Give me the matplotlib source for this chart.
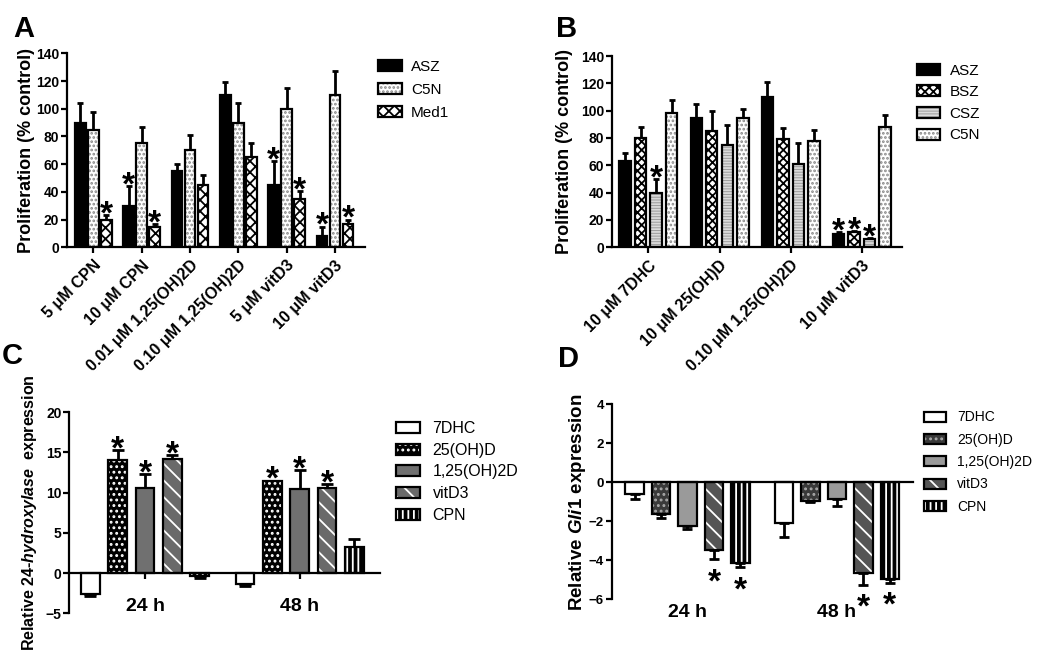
import numpy as np
import matplotlib
matplotlib.use("Agg")
import matplotlib.pyplot as plt
from matplotlib.patches import Patch

plt.rcParams["font.family"] = ["Liberation Sans", "DejaVu Sans"]
plt.rcParams["mathtext.fontset"] = "custom"
plt.rcParams["mathtext.it"] = "Liberation Sans:italic:bold"
plt.rcParams["mathtext.rm"] = "Liberation Sans:bold"
plt.rcParams["hatch.linewidth"] = 1.3

# ---------- data ----------
a_cats = ["5 μM CPN", "10 μM CPN", "0.01 μM 1,25(OH)2D", "0.10 μM 1,25(OH)2D",
          "5 μM vitD3", "10 μM vitD3"]
a_asz = [90, 30, 55, 110, 45, 8]
a_asz_err = [14, 14, 5, 9, 17, 7]
a_c5n = [85, 75, 70, 90, 100, 110]
a_c5n_err = [13, 12, 11, 14, 15, 17]
a_med1 = [20, 15, 45, 65, 35, 17]
a_med1_err = [3.5, 2, 7, 10, 5.5, 3]
a_star = {"ASZ": [1, 4, 5], "C5N": [], "Med1": [0, 1, 4, 5]}

b_cats = ["10 μM 7DHC", "10 μM 25(OH)D", "0.10 μM 1,25(OH)2D", "10 μM vitD3"]
b_asz = [63, 95, 110, 10]
b_asz_err = [6, 10, 11, 1]
b_bsz = [80, 85, 79, 11]
b_bsz_err = [8, 15, 8, 1]
b_csz = [40, 75, 61, 6]
b_csz_err = [10, 14.5, 15, 0.5]
b_c5n = [98, 95, 78, 88]
b_c5n_err = [10, 6, 8, 9]
b_star = {"ASZ": [3], "BSZ": [3], "CSZ": [0, 3], "C5N": []}

times = ["24 h", "48 h"]
c_7dhc = [-2.6, -1.3]
c_7dhc_err = [0.25, 0.3]
c_25 = [14.1, 11.4]
c_25_err = [1.2, 0.1]
c_125 = [10.55, 10.45]
c_125_err = [1.8, 2.4]
c_vit = [14.15, 10.55]
c_vit_err = [0.55, 0.55]
c_cpn = [-0.4, 3.3]
c_cpn_err = [0.2, 0.95]
c_star = {"25(OH)D": [0, 1], "1,25(OH)2D": [0, 1], "vitD3": [0, 1]}

d_7dhc = [-0.6, -2.07]
d_7dhc_err = [0.25, 0.75]
d_25 = [-1.65, -0.97]
d_25_err = [0.2, 0.03]
d_125 = [-2.25, -0.85]
d_125_err = [0.15, 0.35]
d_vit = [-3.45, -4.65]
d_vit_err = [0.5, 0.6]
d_cpn = [-4.15, -4.95]
d_cpn_err = [0.2, 0.2]
d_star = {"vitD3": [0, 1], "CPN": [0, 1]}

BOLD = dict(fontweight="bold")
STAR_UP, STAR_DOWN = -6, -23      # baseline offsets (points) from the error-bar tip


def style_axis(ax, ylim, yticks, tick_fs):
    for s in ["top", "right"]:
        ax.spines[s].set_visible(False)
    for s in ["left", "bottom"]:
        ax.spines[s].set_linewidth(1.6)
    ax.spines["bottom"].set_position(("data", 0))
    ax.set_ylim(*ylim)
    ax.set_yticks(yticks)
    ax.tick_params(axis="both", direction="out", width=1.6, length=4, labelsize=tick_fs)
    ax.tick_params(axis="y", pad=1.5)
    for lab in ax.get_yticklabels():
        lab.set_fontweight("bold")


def draw_series(ax, x, vals, errs, face, hatch, hcol, width, capsize, stars):
    x = np.asarray(x, float)
    vals = np.asarray(vals, float)
    errs = np.asarray(errs, float)
    ax.bar(x, vals, width, color=face, hatch=hatch, edgecolor=hcol, linewidth=0, zorder=2)
    ax.bar(x, vals, width, fill=False, edgecolor="black", linewidth=1.6, zorder=3)
    lo = np.where(vals < 0, errs, 0)
    hi = np.where(vals >= 0, errs, 0)
    ax.errorbar(x, vals, yerr=[lo, hi], fmt="none", ecolor="black", elinewidth=2,
                capsize=capsize, capthick=2, zorder=1)
    for i in stars:
        up = vals[i] >= 0
        tip = vals[i] + errs[i] if up else vals[i] - errs[i]
        ax.annotate("*", (x[i], tip), xytext=(0, STAR_UP if up else STAR_DOWN),
                    textcoords="offset points", ha="center", va="baseline",
                    fontsize=24, fontweight="bold")


def legend_handle(face, hatch, hcol):
    return (Patch(facecolor=face, hatch=hatch, edgecolor=hcol, linewidth=0),
            Patch(fill=False, edgecolor="black", linewidth=1.6))


fig = plt.figure(figsize=(10.5, 6.62), dpi=100)

# ---------- A ----------
axA = fig.add_axes([0.0635, 0.6264, 0.2841, 0.2931])
styleA = [("ASZ", a_asz, a_asz_err, "black", None, "black"),
          ("C5N", a_c5n, a_c5n_err, "white", "....", "#888888"),
          ("Med1", a_med1, a_med1_err, "white", "xxx", "black")]
gx = np.arange(len(a_cats))
for k, (name, v, e, fc, h, hc) in enumerate(styleA):
    draw_series(axA, gx + (k - 1) * 0.27, v, e, fc, h, hc, 0.22, 2.5, a_star[name])
style_axis(axA, (0, 140), range(0, 141, 20), 10)
axA.set_xlim(-0.55, 5.62)
axA.set_xticks(gx)
axA.set_xticklabels(a_cats, rotation=45, ha="right", rotation_mode="anchor", fontsize=11.5, **BOLD)
axA.set_ylabel("Proliferation (% control)", fontsize=13, **BOLD)
axA.yaxis.set_label_coords(-0.105, 0.5)
axA.legend([legend_handle(fc, h, hc) for _, _, _, fc, h, hc in styleA],
           [s[0] for s in styleA], loc="upper left", bbox_to_anchor=(0.360, 0.910),
           bbox_transform=fig.transFigure, frameon=False, fontsize=11, borderaxespad=0,
           borderpad=0, handlelength=1.55, handleheight=0.75, handletextpad=0.6, labelspacing=0.6)

# ---------- B ----------
axB = fig.add_axes([0.5826, 0.6264, 0.2762, 0.2890])
styleB = [("ASZ", b_asz, b_asz_err, "black", None, "black"),
          ("BSZ", b_bsz, b_bsz_err, "white", "xxxx", "black"),
          ("CSZ", b_csz, b_csz_err, "#9a9a9a", "------", "#dadada"),
          ("C5N", b_c5n, b_c5n_err, "white", "....", "#888888")]
gx = np.arange(len(b_cats))
for k, (name, v, e, fc, h, hc) in enumerate(styleB):
    draw_series(axB, gx + (k - 1.5) * 0.218, v, e, fc, h, hc, 0.16, 2.5, b_star[name])
style_axis(axB, (0, 140), range(0, 141, 20), 10)
axB.set_xlim(-0.515, 3.56)
axB.set_xticks(gx)
axB.set_xticklabels(b_cats, rotation=45, ha="right", rotation_mode="anchor", fontsize=11.5, **BOLD)
axB.set_ylabel("Proliferation (% control)", fontsize=13, **BOLD)
axB.yaxis.set_label_coords(-0.135, 0.5)
axB.legend([legend_handle(fc, h, hc) for _, _, _, fc, h, hc in styleB],
           [s[0] for s in styleB], loc="upper left", bbox_to_anchor=(0.873, 0.904),
           bbox_transform=fig.transFigure, frameon=False, fontsize=11, borderaxespad=0,
           borderpad=0, handlelength=1.55, handleheight=0.75, handletextpad=0.6, labelspacing=0.5)

# ---------- C ----------
axC = fig.add_axes([0.0660, 0.0736, 0.2959, 0.3036])
styleC = [("7DHC", c_7dhc, c_7dhc_err, "white", None, "black"),
          ("25(OH)D", c_25, c_25_err, "black", "...", "white"),
          ("1,25(OH)2D", c_125, c_125_err, "#707070", None, "#707070"),
          ("vitD3", c_vit, c_vit_err, "#6a6a6a", "\\\\", "white"),
          ("CPN", c_cpn, c_cpn_err, "black", "|||", "white")]
gx = np.arange(len(times))
for k, (name, v, e, fc, h, hc) in enumerate(styleC):
    draw_series(axC, gx + (k - 2) * 0.177, v, e, fc, h, hc, 0.12, 4, c_star.get(name, []))
style_axis(axC, (-5, 20), range(-5, 21, 5), 10)
axC.set_xlim(-0.49, 1.52)
axC.set_xticks(gx)
axC.set_xticklabels([])
for i, t in enumerate(times):
    axC.text(i, -4.2, t, ha="center", va="center", fontsize=14, **BOLD)
axC.set_ylabel(r"Relative $\mathit{24}$-$\mathit{hydroxylase}$  expression", fontsize=11.5, **BOLD)
axC.yaxis.set_label_coords(-0.098, 0.5)
axC.legend([legend_handle(fc, h, hc) for _, _, _, fc, h, hc in styleC],
           [s[0] for s in styleC], loc="upper left", bbox_to_anchor=(0.377, 0.364),
           bbox_transform=fig.transFigure, frameon=False, fontsize=11.5, borderaxespad=0,
           borderpad=0, handlelength=1.5, handleheight=0.7, handletextpad=0.8, labelspacing=0.42)

# ---------- D ----------
axD = fig.add_axes([0.5826, 0.0947, 0.2870, 0.2946])
styleD = [("7DHC", d_7dhc, d_7dhc_err, "white", None, "black"),
          ("25(OH)D", d_25, d_25_err, "#3a3a3a", "...", "#aaaaaa"),
          ("1,25(OH)2D", d_125, d_125_err, "#9a9a9a", None, "#9a9a9a"),
          ("vitD3", d_vit, d_vit_err, "#555555", "\\\\", "white"),
          ("CPN", d_cpn, d_cpn_err, "black", "|||", "white")]
for k, (name, v, e, fc, h, hc) in enumerate(styleD):
    draw_series(axD, gx + (k - 2) * 0.177, v, e, fc, h, hc, 0.123, 3.5, d_star.get(name, []))
style_axis(axD, (-6, 4), range(-6, 5, 2), 9.5)
axD.set_xlim(-0.507, 1.51)
axD.set_xticks([])
for i, t in enumerate(times):
    axD.text(i, -6.7, t, ha="center", va="center", fontsize=14, **BOLD)
axD.set_ylabel(r"Relative $\mathit{Gli1}$ expression", fontsize=13.5, **BOLD)
axD.yaxis.set_label_coords(-0.08, 0.5)
axD.legend([legend_handle(fc, h, hc) for _, _, _, fc, h, hc in styleD],
           [s[0] for s in styleD], loc="upper left", bbox_to_anchor=(0.88, 0.38),
           bbox_transform=fig.transFigure, frameon=False, fontsize=10, borderaxespad=0,
           borderpad=0, handlelength=1.6, handleheight=0.75, handletextpad=0.8, labelspacing=0.6)

# panel letters
for lx, ly, s in [(0.013, 0.978, "A"), (0.530, 0.978, "B"), (0.002, 0.484, "C"), (0.531, 0.479, "D")]:
    fig.text(lx, ly, s, fontsize=21, fontweight="bold", va="top")

fig.savefig("out.png", dpi=100)
